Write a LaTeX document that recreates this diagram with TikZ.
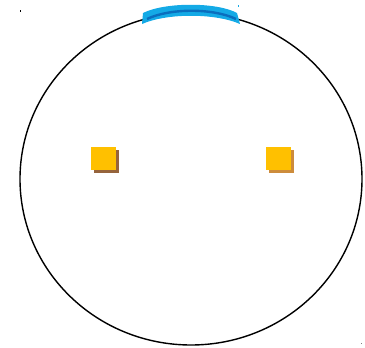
\documentclass[tikz,border=0pt]{standalone}
\usetikzlibrary{shapes.geometric}
\definecolor{bandblue}{RGB}{20,170,230}
\definecolor{darkblue}{RGB}{10,110,190}
\definecolor{sqyellow}{RGB}{255,192,0}
\definecolor{shadowA}{RGB}{150,100,60}
\definecolor{shadowB}{RGB}{205,140,60}
\tikzset{
  table/.style={draw=black, line width=1.4pt},
  sq/.style={fill=sqyellow, minimum width=25pt, minimum height=23pt, inner sep=0pt, outer sep=0pt},
}
\begin{document}
\begin{tikzpicture}[x=1pt,y=-1pt]
\useasboundingbox (0,0) rectangle (365,348);
\node[table, ellipse, minimum width=342pt, minimum height=332pt, inner sep=0pt] (tbl) at (191,179) {};
% blue arc
\fill[bandblue] (143,13) .. controls (165,2) and (217,2) .. (237,13) -- (240,24) .. controls (215,13) and (167,13) .. (142,24) -- cycle;
\draw[darkblue, line width=2.4pt] (147,19) .. controls (170,8) and (213,8) .. (236,19);
% squares with shadows
\fill[shadowA] (94,150) rectangle (119,173);
\node[sq, anchor=north west] (s1) at (91,147) {};
\fill[shadowB] (269,150) rectangle (294,173);
\node[sq, anchor=north west] (s2) at (266,147) {};
% small marks
\fill[black] (20,10) rectangle (21,12);
\fill[gray] (360.5,342.5) rectangle (361.5,343.5);
\fill[bandblue] (237.5,4.5) rectangle (238.5,7);
\end{tikzpicture}
\end{document}
